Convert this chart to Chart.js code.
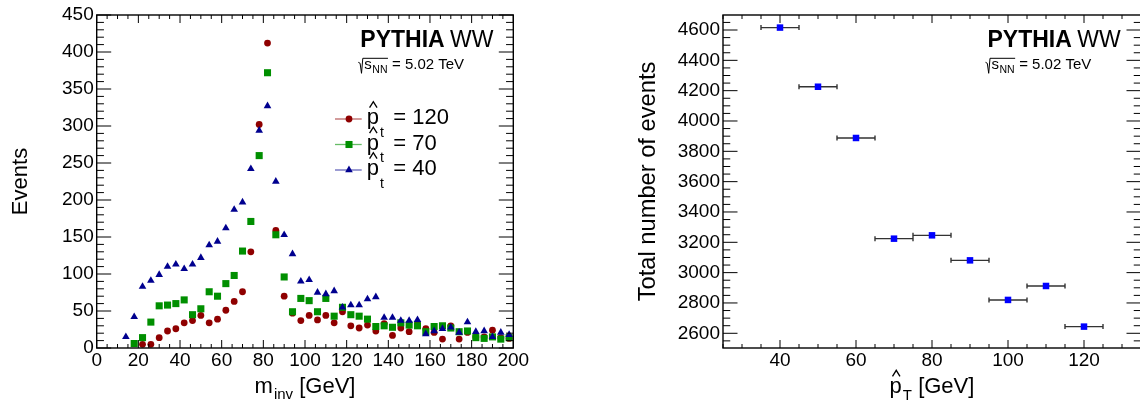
<!DOCTYPE html>
<html>
<head>
<meta charset="utf-8">
<script src="https://cdn.jsdelivr.net/npm/chart.js@4.4.1/dist/chart.umd.min.js"></script>
<style>
  html, body { margin: 0; padding: 0; background: #fff; overflow: hidden; }
  #wrap { position: relative; width: 1140px; height: 402px; overflow: hidden; }
  canvas { position: absolute; top: 0; }
  #left { left: 0; }
  #right { left: 570px; }
</style>
</head>
<body>
<div id="wrap">
  <canvas id="left" width="570" height="402"></canvas>
  <canvas id="right" width="600" height="402"></canvas>
</div>
<script>
// left panel: invariant mass, bin centres [GeV]
const mInvBins = [14, 18, 22, 26, 30, 34, 38, 42, 46, 50, 54, 58, 62, 66, 70, 74, 78, 82, 86, 90,
  94, 98, 102, 106, 110, 114, 118, 122, 126, 130, 134, 138, 142, 146, 150, 154, 158, 162, 166, 170,
  174, 178, 182, 186, 190, 194, 198];
const eventsPt120 = [null, null, 5, 5, 14, 23, 26, 34, 37, 44, 34, 39, 51, 63, 76, 130, 302, 412, 159, 70,
  47, 37, 44, 38, 44, 34, 49, 30, 27, 31, 23, 33, 17, 27, 22, 33, 26, 21, 12, 30,
  12, 21, 15, 15, 24, 14, 13];
const eventsPt70 = [null, 6, 14, 35, 57, 58, 60, 65, 45, 53, 76, 70, 87, 98, 131, 171, 260, 372, 153, 96,
  49, 67, 64, 49, 67, 43, 55, 45, 43, 39, 29, 30, 28, 34, 31, 30, 22, 29, 30, 27,
  22, 23, 14, 13, 15, 12, 14];
const eventsPt40 = [15, 42, 83, 91, 99, 110, 113, 107, 113, 122, 139, 144, 162, 187, 197, 242, 294, 327, 225, 153,
  127, 90, 92, 75, 73, 77, 55, 58, 58, 66, 69, 41, 41, 37, 37, 38, 19, 23, 26, 28,
  21, 35, 22, 23, 15, 21, 18];
const mInvTicks = [0, 20, 40, 60, 80, 100, 120, 140, 160, 180, 200];
const eventsTicks = [0, 50, 100, 150, 200, 250, 300, 350, 400, 450];

// right panel: total events vs pT-hat
const ptHat = [40, 50, 60, 70, 80, 90, 100, 110, 120];
const ptHatErr = [5, 5, 5, 5, 5, 5, 5, 5, 5];
const totalEvents = [4616, 4226, 3888, 3224, 3246, 3081, 2820, 2912, 2644];
const ptHatTicks = [40, 60, 80, 100, 120];
const totalTicks = [2600, 2800, 3000, 3200, 3400, 3600, 3800, 4000, 4200, 4400, 4600];

const FONT = "'Liberation Sans', Arial, sans-serif";
const RED = "#8f0000", GREEN = "#008f00", NAVY = "#00008f", BLUE = "#0000ff";

const toXY = (xs, ys) => xs.map((x, i) => ({ x: x, y: ys[i] }));
const setTicks = (vals) => (scale) => { scale.ticks = vals.map((v) => ({ value: v })); };

// ROOT style frame with inward ticks on all four sides
const rootFrame = {
  id: "rootFrame",
  afterDraw(chart, args, opts) {
    const { ctx, chartArea: a, scales: { x, y } } = chart;
    const isMajor = (scale, v) => scale.ticks.some((t) => Math.abs(t.value - v) < 1e-6);
    ctx.save();
    ctx.strokeStyle = "#000";
    ctx.lineWidth = 1;
    ctx.beginPath();
    for (let v = Math.ceil(x.min / opts.xMinor) * opts.xMinor; v <= x.max + 1e-6; v += opts.xMinor) {
      const px = x.getPixelForValue(v);
      const len = isMajor(x, v) ? opts.xLen : opts.xLen / 2;
      ctx.moveTo(px, a.bottom); ctx.lineTo(px, a.bottom - len);
      ctx.moveTo(px, a.top); ctx.lineTo(px, a.top + len);
    }
    for (let v = Math.ceil(y.min / opts.yMinor) * opts.yMinor; v <= y.max + 1e-6; v += opts.yMinor) {
      const py = y.getPixelForValue(v);
      const len = isMajor(y, v) ? opts.yLen : opts.yLen / 2;
      ctx.moveTo(a.left, py); ctx.lineTo(a.left + len, py);
      ctx.moveTo(a.right, py); ctx.lineTo(a.right - len, py);
    }
    ctx.stroke();
    ctx.lineWidth = 1.4;
    ctx.strokeRect(a.left, a.top, a.right - a.left, a.bottom - a.top);
    ctx.restore();
  }
};

// horizontal error bars for the right panel
const xErrorBars = {
  id: "xErrorBars",
  beforeDatasetsDraw(chart) {
    const { ctx, scales: { x, y } } = chart;
    ctx.save();
    ctx.strokeStyle = "#333";
    ctx.lineWidth = 1.4;
    ctx.beginPath();
    ptHat.forEach((v, i) => {
      const x1 = x.getPixelForValue(v - ptHatErr[i]);
      const x2 = x.getPixelForValue(v + ptHatErr[i]);
      const py = y.getPixelForValue(totalEvents[i]);
      ctx.moveTo(x1, py); ctx.lineTo(x2, py);
      ctx.moveTo(x1, py - 2.5); ctx.lineTo(x1, py + 2.5);
      ctx.moveTo(x2, py - 2.5); ctx.lineTo(x2, py + 2.5);
    });
    ctx.stroke();
    ctx.restore();
  }
};

function font(size, bold) {
  return (bold ? "bold " : "") + size + "px " + FONT;
}

// p with a hat and a subscript, returns x where it ends
function drawHatP(ctx, x, base, size, sub, subSize, subDrop) {
  ctx.font = font(size);
  ctx.fillText("p", x, base);
  const pw = ctx.measureText("p").width;
  const cx = x + pw / 2 + 0.5, hw = size * 0.17;
  ctx.beginPath();
  ctx.moveTo(cx - hw, base - size * 0.755);
  ctx.lineTo(cx, base - size * 1.03);
  ctx.lineTo(cx + hw, base - size * 0.755);
  ctx.lineWidth = size * 0.06;
  ctx.stroke();
  ctx.font = font(subSize);
  ctx.fillText(sub, x + pw + 1, base + subDrop);
  return x + pw + 1 + ctx.measureText(sub).width;
}

function drawPythia(ctx, x, top) {
  ctx.fillStyle = "#000";
  ctx.strokeStyle = "#000";
  ctx.textAlign = "left";
  ctx.textBaseline = "alphabetic";
  ctx.font = font(23, true);
  ctx.fillText("PYTHIA", x, top + 32.3);
  const w = ctx.measureText("PYTHIA ").width;
  ctx.font = font(23);
  ctx.fillText("WW", x + w - 1, top + 32.3);
  // sqrt(s_NN) = 5.02 TeV
  const base = top + 54.3, r = x - 2;
  ctx.font = font(15);
  ctx.fillText("s", r + 6, base);
  const sw = ctx.measureText("s").width;
  ctx.font = font(10.5);
  ctx.fillText("NN", r + 6 + sw + 0.5, base + 4);
  const end = r + 6 + sw + 0.5 + ctx.measureText("NN").width;
  ctx.beginPath();
  ctx.moveTo(r, base - 7);
  ctx.lineTo(r + 1.8, base - 6);
  ctx.lineTo(r + 3.2, base + 4);
  ctx.lineTo(r + 4.5, base - 11);
  ctx.lineTo(end + 0.5, base - 11);
  ctx.lineWidth = 1;
  ctx.stroke();
  ctx.font = font(15);
  ctx.fillText("= 5.02 TeV", end + 4.5, base);
}

const leftText = {
  id: "leftText",
  afterDraw(chart) {
    const { ctx, chartArea: a } = chart;
    ctx.save();
    drawPythia(ctx, a.right - 153, a.top);
    // legend
    const labels = ["120", "70", "40"];
    chart.data.datasets.forEach((ds, i) => {
      const rowY = a.top + 104 + i * 25.5;
      ctx.save();
      ctx.globalAlpha = 0.6;
      ctx.strokeStyle = ds.backgroundColor;
      ctx.lineWidth = 1.3;
      ctx.beginPath();
      ctx.moveTo(a.left + 238.3, rowY);
      ctx.lineTo(a.left + 265, rowY);
      ctx.stroke();
      ctx.restore();
      ctx.fillStyle = ds.backgroundColor;
      Chart.helpers.drawPoint(ctx, { pointStyle: ds.pointStyle, radius: ds.pointRadius, borderWidth: 0 },
        a.left + 252.3, rowY);
      ctx.fillStyle = "#000";
      ctx.strokeStyle = "#000";
      const tx = a.left + 270;
      const base = rowY + 5.3;
      drawHatP(ctx, tx, base, 22, "t", 14, 12.2);
      ctx.font = font(22);
      ctx.fillText("= " + labels[i], tx + 26.6, base);
    });
    // x axis title
    ctx.font = font(22);
    const wm = ctx.measureText("m").width;
    const wg = ctx.measureText(" [GeV]").width;
    ctx.font = font(15);
    const wi = ctx.measureText("inv").width;
    let x = (a.left + a.right) / 2 - (wm + wi + wg + 1) / 2;
    const base = 393;
    ctx.font = font(22);
    ctx.fillText("m", x, base);
    ctx.font = font(15);
    ctx.fillText("inv", x + wm + 1, base + 6);
    ctx.font = font(22);
    ctx.fillText(" [GeV]", x + wm + 1 + wi, base);
    ctx.restore();
  }
};

const rightText = {
  id: "rightText",
  afterDraw(chart) {
    const { ctx, chartArea: a } = chart;
    ctx.save();
    drawPythia(ctx, a.right - 153.5, a.top);
    ctx.font = font(22);
    const wp = ctx.measureText("p").width;
    const wg = ctx.measureText(" [GeV]").width;
    ctx.font = font(15);
    const wt = ctx.measureText("T").width;
    const x = (a.left + a.right) / 2 - (wp + wt + wg + 1) / 2;
    const end = drawHatP(ctx, x, 393, 22, "T", 15, 6.5);
    ctx.font = font(22);
    ctx.fillText(" [GeV]", end, 393);
    ctx.restore();
  }
};

const tickFont = { family: FONT, size: 19 };

new Chart(document.getElementById("left"), {
  type: "scatter",
  data: {
    datasets: [
      { label: "120", data: toXY(mInvBins, eventsPt120), pointStyle: "circle", pointRadius: 3.4,
        backgroundColor: RED, borderWidth: 0, order: 3 },
      { label: "70", data: toXY(mInvBins, eventsPt70), pointStyle: "rect", pointRadius: 5,
        backgroundColor: GREEN, borderWidth: 0, order: 2 },
      { label: "40", data: toXY(mInvBins, eventsPt40), pointStyle: "triangle", pointRadius: 4.4,
        backgroundColor: NAVY, borderWidth: 0, order: 1 }
    ]
  },
  options: {
    responsive: false,
    animation: false,
    devicePixelRatio: 1,
    events: [],
    clip: false,
    layout: { padding: { left: 0, right: 56.7, top: 15, bottom: 0 } },
    plugins: {
      legend: { display: false },
      tooltip: { enabled: false },
      rootFrame: { xMinor: 5, yMinor: 10, xLen: 8, yLen: 14.5 }
    },
    scales: {
      x: {
        type: "linear", min: 0, max: 200,
        afterBuildTicks: setTicks(mInvTicks),
        afterFit: (s) => { s.height = 54; },
        grid: { display: false, drawTicks: false },
        border: { display: false },
        ticks: { font: tickFont, color: "#000", padding: 1, maxRotation: 0, autoSkip: false,
          callback: (v) => String(v) }
      },
      y: {
        type: "linear", min: 0, max: 450,
        afterBuildTicks: setTicks(eventsTicks),
        afterFit: (s) => { s.width = 96.7; },
        grid: { display: false, drawTicks: false },
        border: { display: false },
        ticks: { font: tickFont, color: "#000", padding: 3, autoSkip: false,
          callback: (v) => String(v) },
        title: { display: true, text: "Events", font: { family: FONT, size: 22 }, color: "#000",
          padding: { top: 7.8, bottom: 0 } }
      }
    }
  },
  plugins: [rootFrame, leftText]
});

new Chart(document.getElementById("right"), {
  type: "scatter",
  data: {
    datasets: [
      { label: "total", data: toXY(ptHat, totalEvents), pointStyle: "rect", pointRadius: 4.6,
        backgroundColor: BLUE, borderWidth: 0 }
    ]
  },
  options: {
    responsive: false,
    animation: false,
    devicePixelRatio: 1,
    events: [],
    clip: false,
    layout: { padding: { left: 0, right: 29, top: 15, bottom: 0 } },
    plugins: {
      legend: { display: false },
      tooltip: { enabled: false },
      rootFrame: { xMinor: 5, yMinor: 50, xLen: 8, yLen: 14.5 }
    },
    scales: {
      x: {
        type: "linear", min: 25, max: 135,
        afterBuildTicks: setTicks(ptHatTicks),
        afterFit: (s) => { s.height = 54; },
        grid: { display: false, drawTicks: false },
        border: { display: false },
        ticks: { font: tickFont, color: "#000", padding: 1, maxRotation: 0, autoSkip: false,
          callback: (v) => String(v) }
      },
      y: {
        type: "linear", min: 2503, max: 4699,
        afterBuildTicks: setTicks(totalTicks),
        afterFit: (s) => { s.width = 153; },
        grid: { display: false, drawTicks: false },
        border: { display: false },
        ticks: { font: tickFont, color: "#000", padding: 3, autoSkip: false,
          callback: (v) => String(v) },
        title: { display: true, text: "Total number of events", font: { family: FONT, size: 23.7 },
          color: "#000", padding: { top: 63.8, bottom: 0 } }
      }
    }
  },
  plugins: [xErrorBars, rootFrame, rightText]
});
</script>
</body>
</html>
